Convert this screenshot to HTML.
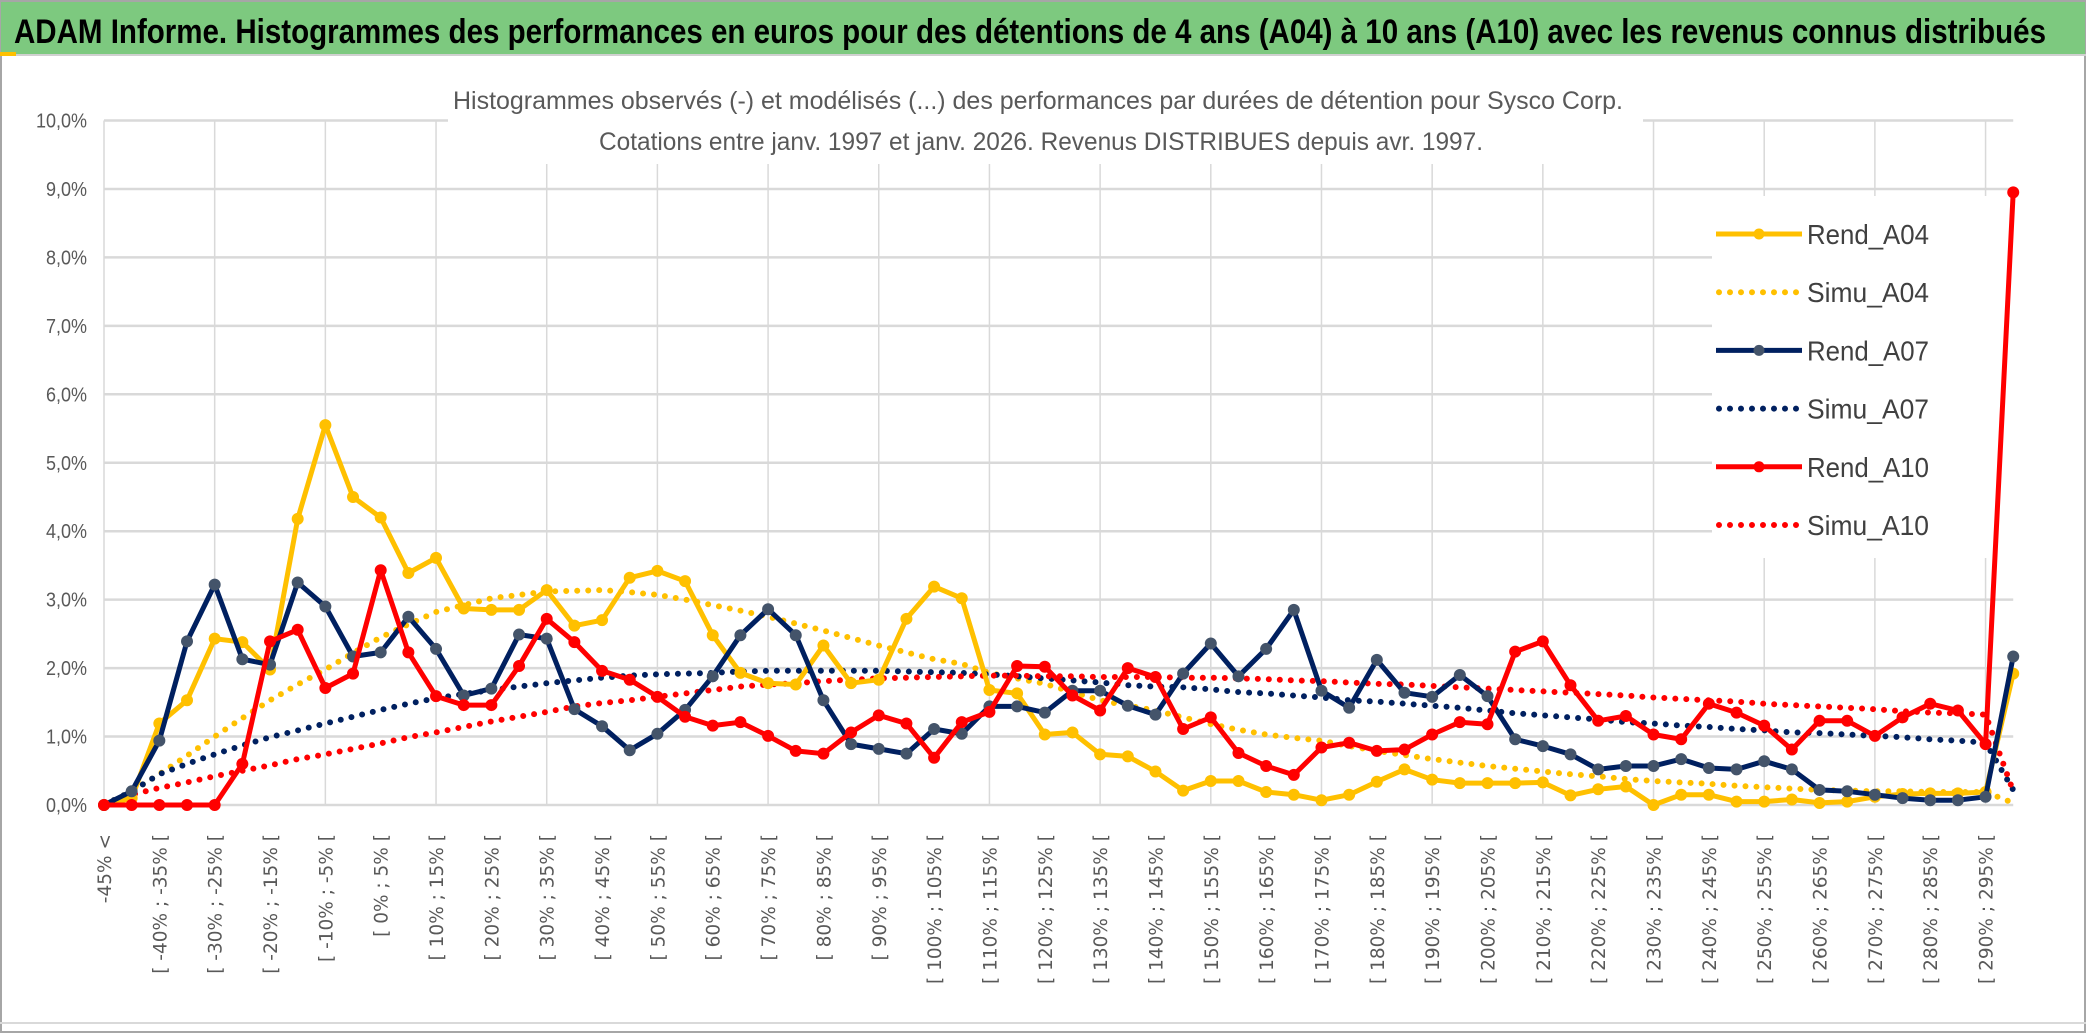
<!DOCTYPE html>
<html><head><meta charset="utf-8"><style>
html,body{margin:0;padding:0;background:#fff;width:2086px;height:1033px;overflow:hidden}
svg{display:block}
</style></head><body>
<svg id="chart" width="2086" height="1033" viewBox="0 0 2086 1033" xmlns="http://www.w3.org/2000/svg">
<rect x="0" y="0" width="2086" height="1033" fill="#fff"/>
<rect x="1" y="1" width="2084" height="1031" fill="none" stroke="#a6a6a6" stroke-width="2"/>
<rect x="1" y="2" width="2084" height="52" fill="#7dc97f"/>
<line x1="0" y1="55" x2="2086" y2="55" stroke="#d0d0d0" stroke-width="2"/>
<rect x="0" y="52" width="16" height="4" fill="#ffc000"/>
<text x="14" y="43" font-family="'Liberation Sans',sans-serif" font-weight="bold" font-size="34" fill="#000" textLength="2032" lengthAdjust="spacingAndGlyphs">ADAM Informe. Histogrammes des performances en euros pour des détentions de 4 ans (A04) à 10 ans (A10) avec les revenus connus distribués</text>
<line x1="0" y1="1023" x2="2086" y2="1023" stroke="#d9d9d9" stroke-width="2"/>
<g id="grid"></g>
<g id="yticks"></g>
<g id="xticks"></g>
<rect x="448" y="78" width="1195" height="86" fill="#fff"/>
<text x="1038" y="109" text-anchor="middle" font-family="'Liberation Sans',sans-serif" font-size="25" fill="#595959" textLength="1170" lengthAdjust="spacingAndGlyphs">Histogrammes observés (-) et modélisés (...) des performances par durées de détention pour Sysco Corp.</text>
<text x="1041" y="150" text-anchor="middle" font-family="'Liberation Sans',sans-serif" font-size="25" fill="#595959" textLength="884" lengthAdjust="spacingAndGlyphs">Cotations entre janv. 1997 et janv. 2026. Revenus DISTRIBUES depuis avr. 1997.</text>
<rect x="1712" y="196" width="326" height="362" fill="#fff"/>
<g id="series"></g>
<g id="legend"></g>
</svg>
<script>
const rendA04 = [0,0.1,1.19,1.53,2.43,2.38,1.98,4.18,5.55,4.5,4.2,3.39,3.61,2.87,2.85,2.85,3.14,2.62,2.7,3.32,3.42,3.27,2.48,1.93,1.78,1.76,2.33,1.78,1.83,2.72,3.19,3.02,1.68,1.63,1.03,1.06,0.74,0.71,0.49,0.21,0.35,0.35,0.19,0.15,0.07,0.15,0.34,0.52,0.37,0.32,0.32,0.32,0.33,0.14,0.23,0.27,0,0.15,0.15,0.05,0.05,0.08,0.03,0.05,0.12,0.16,0.17,0.17,0.19,1.92];
const simuA04 = [0,0.2,0.45,0.72,1.0,1.27,1.53,1.76,1.98,2.22,2.45,2.64,2.82,2.92,3.02,3.07,3.12,3.13,3.14,3.11,3.07,3.0,2.92,2.84,2.75,2.65,2.55,2.44,2.33,2.23,2.13,2.06,1.93,1.85,1.77,1.65,1.53,1.45,1.38,1.28,1.18,1.1,1.03,0.98,0.94,0.86,0.79,0.73,0.67,0.62,0.57,0.53,0.49,0.45,0.42,0.38,0.35,0.33,0.31,0.28,0.26,0.24,0.22,0.21,0.2,0.2,0.19,0.19,0.19,0.03];
const rendA07 = [0,0.2,0.94,2.39,3.22,2.13,2.05,3.25,2.9,2.17,2.23,2.75,2.28,1.6,1.7,2.49,2.43,1.4,1.15,0.8,1.04,1.39,1.88,2.48,2.86,2.48,1.53,0.89,0.82,0.75,1.11,1.04,1.44,1.44,1.35,1.67,1.67,1.45,1.32,1.92,2.36,1.88,2.28,2.85,1.67,1.42,2.12,1.64,1.58,1.9,1.59,0.96,0.86,0.74,0.52,0.57,0.57,0.67,0.54,0.52,0.64,0.52,0.22,0.2,0.15,0.1,0.07,0.07,0.12,2.17];
const simuA07 = [0,0.2,0.45,0.6,0.74,0.87,0.99,1.09,1.19,1.29,1.39,1.48,1.56,1.62,1.68,1.73,1.78,1.82,1.86,1.89,1.91,1.92,1.93,1.95,1.96,1.96,1.96,1.96,1.96,1.95,1.94,1.93,1.91,1.88,1.85,1.82,1.79,1.75,1.73,1.72,1.69,1.65,1.63,1.6,1.57,1.53,1.51,1.48,1.45,1.42,1.38,1.34,1.31,1.28,1.25,1.21,1.19,1.16,1.14,1.11,1.09,1.06,1.05,1.03,1.01,0.99,0.96,0.94,0.91,0.22];
const rendA10 = [0,0,0,0,0,0.6,2.39,2.56,1.71,1.92,3.43,2.23,1.59,1.46,1.46,2.03,2.72,2.38,1.96,1.83,1.58,1.29,1.16,1.21,1.01,0.79,0.75,1.06,1.31,1.19,0.69,1.21,1.36,2.03,2.02,1.6,1.38,2.0,1.87,1.11,1.28,0.76,0.57,0.44,0.84,0.91,0.79,0.81,1.03,1.21,1.18,2.24,2.39,1.75,1.23,1.3,1.03,0.96,1.48,1.35,1.16,0.81,1.23,1.23,1.01,1.28,1.48,1.38,0.89,8.95];
const simuA10 = [0,0.15,0.25,0.33,0.42,0.5,0.58,0.67,0.74,0.82,0.9,0.99,1.06,1.14,1.22,1.29,1.36,1.44,1.49,1.53,1.58,1.63,1.68,1.73,1.76,1.78,1.81,1.83,1.85,1.86,1.87,1.88,1.89,1.89,1.88,1.88,1.87,1.87,1.87,1.86,1.86,1.85,1.84,1.82,1.81,1.79,1.77,1.76,1.74,1.72,1.7,1.68,1.66,1.64,1.62,1.6,1.57,1.55,1.53,1.51,1.48,1.46,1.44,1.42,1.4,1.37,1.35,1.34,1.32,0.2];
const yTickValues = [0,1,2,3,4,5,6,7,8,9,10];
const yTickLabels = ["0,0%","1,0%","2,0%","3,0%","4,0%","5,0%","6,0%","7,0%","8,0%","9,0%","10,0%"];
const categories = ["-45% <"];
for (let lo = -45; lo < 300; lo += 5) categories.push("[ " + lo + "% ; " + (lo + 5) + "% [");
const seriesNames = ["Rend_A04","Simu_A04","Rend_A07","Simu_A07","Rend_A10","Simu_A10"];

const NS = "http://www.w3.org/2000/svg";
const X0 = 104, STEP = 27.67, Y0 = 805, YPX = 68.45;
function xAt(i){ return X0 + i * STEP; }
function yAt(v){ return Y0 - v * YPX; }
function mk(tag, attrs, parent){
  const e = document.createElementNS(NS, tag);
  for (const k in attrs) e.setAttribute(k, attrs[k]);
  parent.appendChild(e); return e;
}
const grid = document.getElementById('grid');
const xRight = xAt(categories.length - 1);
yTickValues.forEach((v, k) => {
  const l = mk('line', {x1: X0, x2: xRight, y1: yAt(v), y2: yAt(v), stroke: '#d9d9d9', 'stroke-width': 2.5}, grid);
  
  
  const t = mk('text', {x: 87, y: yAt(v) + 7, 'text-anchor': 'end', 'font-family': "'Liberation Sans',sans-serif", 'font-size': 20, fill: '#595959', textLength: (yTickLabels[k].length > 4 ? 51 : 41), lengthAdjust: 'spacingAndGlyphs'}, document.getElementById('yticks'));
  t.textContent = yTickLabels[k];
  
  
});
for (let i = 0; i < categories.length; i += 4) {
  const l = mk('line', {x1: xAt(i), x2: xAt(i), y1: yAt(10), y2: Y0, stroke: '#d9d9d9', 'stroke-width': 1.5}, grid);
  
  
}
const xt = document.getElementById('xticks');
categories.forEach((c, i) => {
  if (i % 2 !== 0) return;
  const x = xAt(i) + 7, y = 834;
  const t = mk('text', {x: x, y: y, transform: 'rotate(-90 ' + x + ' ' + y + ')', 'text-anchor': 'end', 'font-family': "'DejaVu Sans',sans-serif", 'font-size': 18.5, fill: '#595959'}, xt);
  t.textContent = c;
  
  
});
const sl = document.getElementById('series');
function pts(arr){ return arr.map((v, i) => xAt(i).toFixed(1) + ',' + yAt(v).toFixed(1)).join(' '); }
function dotted(arr, color, name){
  const p = mk('polyline', {points: pts(arr), fill: 'none', stroke: color, 'stroke-width': 6, 'stroke-linecap': 'round', 'stroke-dasharray': '0 11'}, sl);
  
  
}
function solid(arr, color, mcolor, name){
  const p = mk('polyline', {points: pts(arr), fill: 'none', stroke: color, 'stroke-width': 5, 'stroke-linejoin': 'round'}, sl);
  
  
  arr.forEach((v, i) => {
    const c = mk('circle', {cx: xAt(i), cy: yAt(v), r: 5.5, fill: mcolor, stroke: mcolor}, sl);
    
    
  });
}
dotted(simuA04, '#ffc000', 'simu-a04-line');
dotted(simuA07, '#002060', 'simu-a07-line');
dotted(simuA10, '#ff0000', 'simu-a10-line');
solid(rendA04, '#ffc000', '#ffc000', 'rend-a04-line');
solid(rendA07, '#002060', '#44546a', 'rend-a07-line');
solid(rendA10, '#ff0000', '#ff0000', 'rend-a10-line');

const lg = document.getElementById('legend');
const legendColors = ['#ffc000','#ffc000','#002060','#002060','#ff0000','#ff0000'];
const legendMarkers = ['#ffc000',null,'#44546a',null,'#ff0000',null];
seriesNames.forEach((n, k) => {
  const y = 234 + k * 58.2;
  const g = mk('g', {}, lg);
  
  
  if (legendMarkers[k]) {
    mk('line', {x1: 1716, x2: 1802, y1: y, y2: y, stroke: legendColors[k], 'stroke-width': 5}, g);
    mk('circle', {cx: 1759, cy: y, r: 5.5, fill: legendMarkers[k]}, g);
  } else {
    mk('line', {x1: 1719, x2: 1802, y1: y, y2: y, stroke: legendColors[k], 'stroke-width': 6, 'stroke-linecap': 'round', 'stroke-dasharray': '0 11'}, g);
  }
  const t = mk('text', {x: 1807, y: y + 10, 'font-family': "'Liberation Sans',sans-serif", 'font-size': 28, fill: '#404040', textLength: 122, lengthAdjust: 'spacingAndGlyphs'}, g);
  t.textContent = n;
});
</script>
</body></html>
